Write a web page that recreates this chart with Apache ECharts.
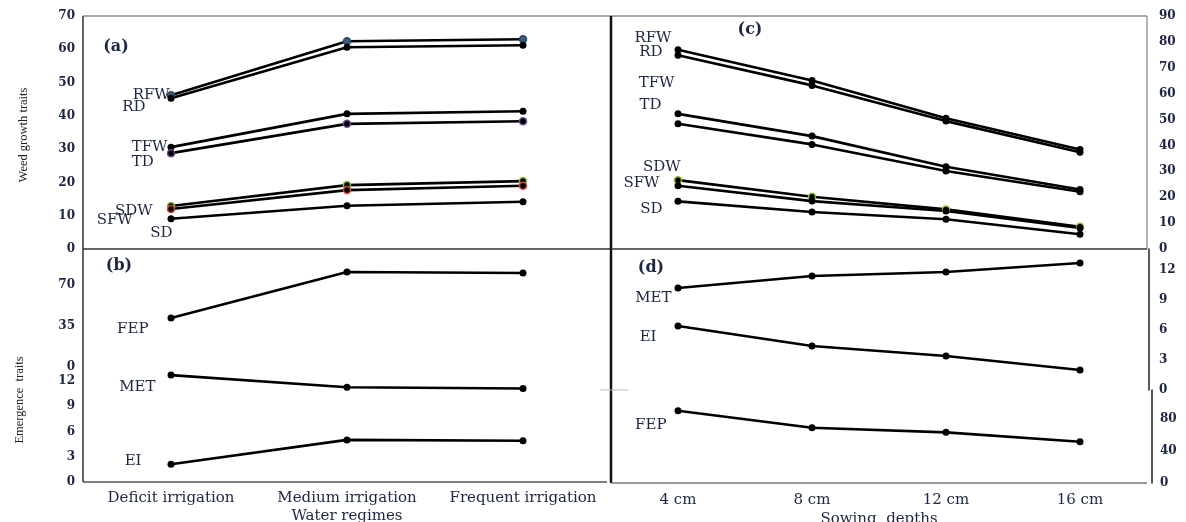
<!DOCTYPE html>
<html><head><meta charset="utf-8">
<script src="https://cdn.jsdelivr.net/npm/echarts@6/dist/echarts.min.js"></script>
<style>html,body{margin:0;padding:0;background:#fff}#c{width:1186px;height:522px}</style>
</head><body><div id="c"></div>
<script>
// ---- categories ----
const waterRegimes = ['Deficit irrigation', 'Medium irrigation', 'Frequent irrigation'];
const sowingDepths = ['4 cm', '8 cm', '12 cm', '16 cm'];
// ---- (a) weed growth traits vs water regimes ----
const aRFW = [46.2, 62.4, 63.0];
const aRD  = [45.3, 60.6, 61.2];
const aTFW = [30.6, 40.6, 41.4];
const aTD  = [28.8, 37.6, 38.4];
const aSDW = [12.9, 19.2, 20.4];
const aSFW = [12.0, 17.7, 19.0];
const aSD  = [9.1, 13.0, 14.2];
// ---- (b) emergence traits vs water regimes ----
const bFEP = [41.6, 80.5, 79.7];
const bMET = [12.7, 11.25, 11.1];
const bEI  = [2.1, 5.0, 4.9];
// ---- (c) weed growth traits vs sowing depths ----
const cRFW = [77.0, 65.1, 50.5, 38.4];
const cRD  = [74.8, 63.2, 49.4, 37.4];
const cTFW = [52.2, 43.6, 31.8, 23.0];
const cTD  = [48.4, 40.4, 30.1, 22.1];
const cSDW = [26.6, 20.2, 15.3, 8.6];
const cSFW = [24.4, 18.5, 14.7, 8.1];
const cSD  = [18.4, 14.3, 11.5, 5.7];
// ---- (d) emergence traits vs sowing depths ----
const dMET = [10.2, 11.4, 11.8, 12.7];
const dEI  = [6.4, 4.4, 3.4, 2.0];
const dFEP = [90.4, 69.0, 63.3, 51.6];
// ---- tick values ----
const ticksA = {min: 0, max: 70, interval: 10};
const ticksBFEP = {min: 0, max: 100, interval: 35};
const ticksBEI = {min: 0, max: 13.66, interval: 3};
const ticksC = {min: 0, max: 90, interval: 10};
const ticksDME = {min: 0, max: 14.1, interval: 3};
const ticksDFEP = {min: 0, max: 116.25, interval: 40};

const NAVY = '#1c2541';
const SERIF = '"DejaVu Serif", serif';
const tickLabel = {color: NAVY, fontFamily: SERIF, fontWeight: 'bold', fontSize: 12};

const grids = [
  {left: 83, top: 16, width: 528, height: 233},
  {left: 83, top: 249, width: 528, height: 118},
  {left: 83, top: 367, width: 528, height: 115},
  {left: 611, top: 16, width: 536, height: 233},
  {left: 611, top: 249, width: 536, height: 141},
  {left: 611, top: 390, width: 536, height: 93}
];

function xAx(gi, cats, showLabel, name, margin, nameGap) {
  return {
    type: 'category', gridIndex: gi, data: cats, boundaryGap: true,
    axisLine: {show: false}, axisTick: {show: false},
    axisLabel: {show: showLabel, interval: 0, hideOverlap: false, color: NAVY, fontFamily: SERIF, fontSize: 15, margin: margin || 6},
    name: name || '', nameLocation: 'middle', nameGap: nameGap || 29,
    nameTextStyle: {color: NAVY, fontFamily: SERIF, fontSize: 15}
  };
}
function yAx(gi, t, pos, margin, lineOffset) {
  return {
    type: 'value', gridIndex: gi, position: pos, min: t.min, max: t.max, interval: t.interval,
    splitLine: {show: false}, axisTick: {show: false},
    axisLine: lineOffset === undefined ? {show: false} : {show: true, lineStyle: {color: '#222', width: 1.5}},
    offset: lineOffset || 0,
    axisLabel: Object.assign({margin: margin,
      formatter: v => (Math.abs(v / t.interval - Math.round(v / t.interval)) < 1e-6 ? String(v) : '')}, tickLabel)
  };
}

function mk(name, vals, ai, lab, marker) {
  const m = marker || {};
  return {
    name: name, type: 'line', xAxisIndex: ai, yAxisIndex: ai,
    symbol: 'circle', symbolSize: 7,
    lineStyle: {color: '#000', width: 2.6},
    itemStyle: {color: m.fill || '#000', borderColor: m.border || '#000', borderWidth: m.border ? 1.5 : 0},
    z: 3,
    data: vals.map((v, i) => i === 0 ? {
      value: v,
      label: {show: true, formatter: name, position: 'left', distance: 5, offset: lab,
        color: NAVY, fontFamily: SERIF, fontSize: 15}
    } : v)
  };
}

const series = [
  // (a)
  mk('RFW', aRFW, 0, [8, 0], {fill: '#3d5a80', border: '#2d4868'}),
  mk('RD', aRD, 0, [-17, 9]),
  mk('TFW', aTFW, 0, [5, 0]),
  mk('TD', aTD, 0, [-8, 9], {fill: '#000', border: '#6a4a8c'}),
  mk('SDW', aSDW, 0, [-9, 5], {fill: '#000', border: '#8fbc3f'}),
  mk('SFW', aSFW, 0, [-29, 11], {fill: '#000', border: '#d0453f'}),
  mk('SD', aSD, 0, [10, 14]),
  // (b)
  mk('FEP', bFEP, 1, [-14, 11]),
  mk('MET', bMET, 2, [-7, 12]),
  mk('EI', bEI, 2, [-21, -3]),
  // (c)
  mk('RFW', cRFW, 3, [2, -12]),
  mk('RD', cRD, 3, [-7, -3]),
  mk('TFW', cTFW, 3, [5, -31]),
  mk('TD', cTD, 3, [-8, -19]),
  mk('SDW', cSDW, 3, [12, -13], {fill: '#000', border: '#8fbc3f'}),
  mk('SFW', cSFW, 3, [-10, -3]),
  mk('SD', cSD, 3, [-7, 8]),
  // (d)
  mk('MET', dMET, 4, [2, 10]),
  mk('EI', dEI, 4, [-13, 11]),
  mk('FEP', dFEP, 5, [-3, 14])
];

function ln(x1, y1, x2, y2, color, w) {
  return {type: 'line', shape: {x1: x1, y1: y1, x2: x2, y2: y2}, style: {stroke: color, lineWidth: w}, z: 10, silent: true};
}
function txt(t, x, y, font, rot, fill) {
  return {type: 'text', x: x, y: y, rotation: rot || 0, z: 10, silent: true,
    style: {text: t, font: font, fill: fill || NAVY, textAlign: 'center', textVerticalAlign: 'middle'}};
}

const graphic = [
  ln(83, 16, 1147, 16, '#8a8a8a', 1.5),
  ln(83, 16, 83, 482, '#333', 1.5),
  ln(83, 249, 611, 249, '#333', 1.5),
  ln(611, 16, 611, 483, '#111', 2.5),
  ln(83, 482, 607, 482, '#555', 1.5),
  ln(611, 249, 1147, 249, '#333', 1.5),
  ln(1147, 16, 1147, 249, '#666', 1),
  ln(611, 483, 1147, 483, '#777', 1.5),
  ln(600, 390, 628, 390, '#bbb', 1),
  txt('(a)', 116, 47, 'bold 16px ' + SERIF),
  txt('(b)', 119, 266, 'bold 16px ' + SERIF),
  txt('(c)', 750, 30, 'bold 16px ' + SERIF),
  txt('(d)', 651, 268, 'bold 16px ' + SERIF),
  txt('Weed growth traits', 24, 135, '12.5px "Liberation Serif", serif', Math.PI / 2, '#222'),
  txt('Emergence  traits', 20, 400, '12.5px "Liberation Serif", serif', Math.PI / 2, '#222')
];

const option = {
  animation: false,
  backgroundColor: '#fff',
  grid: grids.map(g => Object.assign({show: false, containLabel: false, outerBoundsMode: 'none'}, g)),
  xAxis: [
    xAx(0, waterRegimes, false),
    xAx(1, waterRegimes, false),
    xAx(2, waterRegimes, true, 'Water regimes', 9, 27),
    xAx(3, sowingDepths, false),
    xAx(4, sowingDepths, false),
    xAx(5, sowingDepths, true, 'Sowing  depths', 10, 29)
  ],
  yAxis: [
    yAx(0, ticksA, 'left', 8),
    yAx(1, ticksBFEP, 'left', 8),
    yAx(2, ticksBEI, 'left', 8),
    yAx(3, ticksC, 'right', 12),
    yAx(4, ticksDME, 'right', 10, 2),
    yAx(5, ticksDFEP, 'right', 8, 5)
  ],
  series: series,
  graphic: graphic
};
const chart = echarts.init(document.getElementById('c'), null, {renderer: 'canvas'});
chart.setOption(option);
</script>
</body></html>
